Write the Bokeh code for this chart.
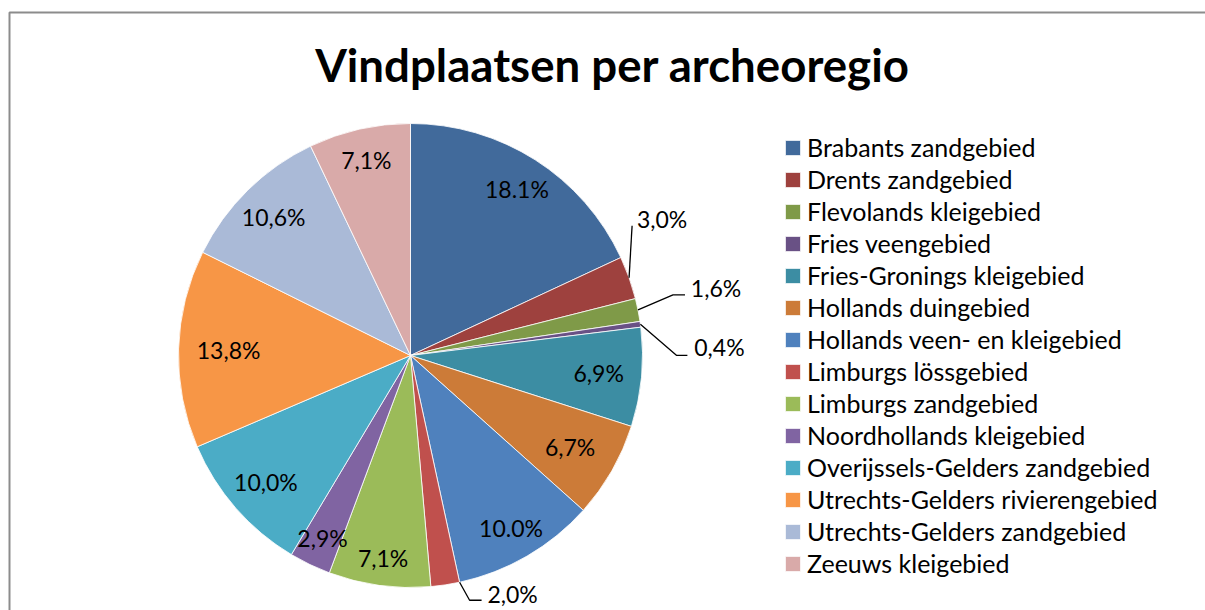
import numpy as np
from bokeh.plotting import figure
from bokeh.models import ColumnDataSource, Range1d, Legend, LegendItem
from bokeh.embed import file_html
from bokeh.resources import INLINE
from bokeh.core.properties import value

# ---------------- data ----------------
regions = [
    "Brabants zandgebied",
    "Drents zandgebied",
    "Flevolands kleigebied",
    "Fries veengebied",
    "Fries-Gronings kleigebied",
    "Hollands duingebied",
    "Hollands veen- en kleigebied",
    "Limburgs lössgebied",
    "Limburgs zandgebied",
    "Noordhollands kleigebied",
    "Overijssels-Gelders zandgebied",
    "Utrechts-Gelders rivierengebied",
    "Utrechts-Gelders zandgebied",
    "Zeeuws kleigebied",
]
shares = [18.1, 3.0, 1.6, 0.4, 6.9, 6.7, 10.0, 2.0, 7.1, 2.9, 10.0, 13.8, 10.6, 7.1]
share_labels = ["18.1%", "3,0%", "1,6%", "0,4%", "6,9%", "6,7%", "10.0%",
                "2,0%", "7,1%", "2,9%", "10,0%", "13,8%", "10,6%", "7,1%"]
colors = ["#416A9B", "#9E413E", "#7F9A48", "#695185", "#3C8DA3", "#CC7B38",
          "#4F81BD", "#C0504D", "#9BBB59", "#8064A2", "#4BACC6", "#F79646",
          "#AABAD7", "#D9AAA9"]
title_text = "Vindplaatsen per archeoregio"

# ---------------- layout (page pixels, y down) ----------------
W, H = 1205, 610
def sy(y):            # page y (down) -> data y (up)
    return H - y

CX, CY, R = 410, 355, 232
# radial distance of inside labels (None = outside label with leader)
label_r = [198, None, None, None, 189, 184, 200, None, 204, 203, 192, 182, 195, 200]
# outside labels: (anchor position within slice 0..1, text centre, elbow, end)
outside = {
    1: (0.5, (33, -59), (3, -52), (3, -52)),
    2: (0.5, (78, -22), (35, -15), (47, -15)),
    3: (0.5, (79, 23), (36, 31), (47, 31)),
    7: (0.0, (53, 12), (10, 18), (22, 18)),
}

vals = np.array(shares, dtype=float)
frac = vals / vals.sum()
cum_after = np.cumsum(frac)
cum_before = cum_after - frac
start = np.pi / 2 - 2 * np.pi * cum_before
end = np.pi / 2 - 2 * np.pi * cum_after
mid = 2 * np.pi * (cum_before + frac / 2)   # clockwise from 12 o'clock

src = ColumnDataSource(dict(region=regions, share=shares, color=colors,
                            start=start, end=end))

p = figure(width=W, height=H, x_range=Range1d(0, W), y_range=Range1d(0, H),
           output_backend="svg", toolbar_location=None, min_border=0,
           x_axis_location=None, y_axis_location=None,
           outline_line_color=None, background_fill_color="white",
           border_fill_color="white")
p.grid.visible = False

# chart-area frame (top and left edges visible)
p.line(x=[9, 9, 1230], y=[sy(640), sy(12), sy(12)], line_color="#8c8c8c", line_width=2)

wr = p.wedge(x=CX, y=sy(CY), radius=R, start_angle="start", end_angle="end",
             direction="clock", fill_color="color", line_color="white",
             line_width=0.8, source=src)

# labels
lx, ly, lt = [], [], []
leader_x, leader_y = [], []
for i, t in enumerate(share_labels):
    a = mid[i]
    if label_r[i] is not None:
        lx.append(CX + label_r[i] * np.sin(a))
        ly.append(sy(CY - label_r[i] * np.cos(a)))
        lt.append(t)
    else:
        f, (tx, ty), (bx, by), (nx, ny) = outside[i]
        aa = 2 * np.pi * (cum_before[i] + f * frac[i])
        ex, ey = CX + R * np.sin(aa), CY - R * np.cos(aa)
        lx.append(ex + tx)
        ly.append(sy(ey + ty))
        lt.append(t)
        leader_x.append([ex, ex + bx, ex + nx])
        leader_y.append([sy(ey), sy(ey + by), sy(ey + ny)])

p.multi_line(xs=leader_x, ys=leader_y, line_color="black", line_width=1.3)
p.text(x=lx, y=ly, text=lt, text_align="center", text_baseline="middle",
       text_font=value("Lato"), text_font_size="23px", text_color="black")

# title
p.text(x=[612], y=[sy(64)], text=[title_text], text_align="center",
       text_baseline="middle", text_font=value("Lato"), text_font_style="bold",
       text_font_size="45.6px", text_color="black")

# legend
items = [LegendItem(label=regions[i], renderers=[wr], index=i) for i in range(len(regions))]
legend = Legend(items=items, location=(783, 31), padding=0, margin=0,
                border_line_color=None, background_fill_alpha=0,
                glyph_width=19, glyph_height=19, label_standoff=5,
                label_height=32, spacing=0,
                label_text_font="Lato", label_text_font_size="25px",
                label_text_color="black")
p.add_layout(legend)

open("out.html", "w").write(file_html(p, INLINE))
